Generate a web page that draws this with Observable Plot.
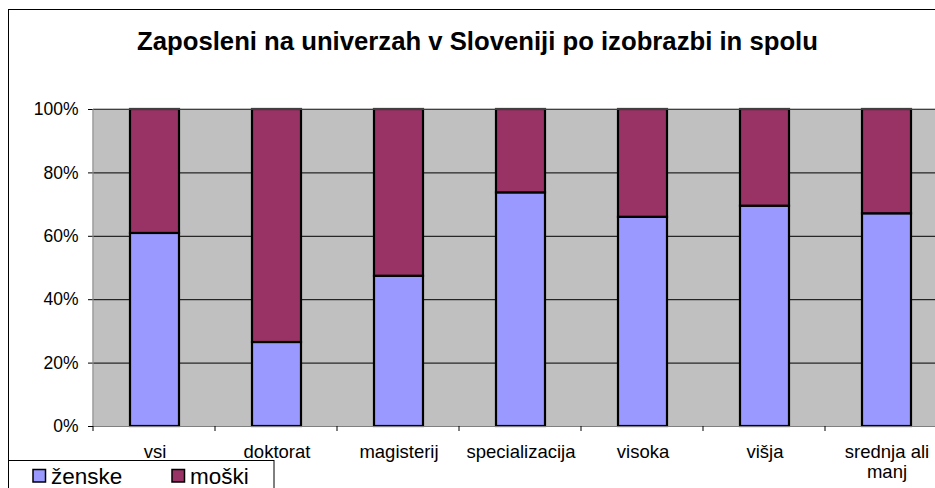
<!DOCTYPE html>
<html>
<head>
<meta charset="utf-8">
<script src="https://cdn.jsdelivr.net/npm/d3@7"></script>
<script src="https://cdn.jsdelivr.net/npm/@observablehq/plot@0.6"></script>
<style>
  html, body { margin: 0; padding: 0; background: #fff; overflow: hidden; }
  #wrap { width: 935px; height: 488px; overflow: hidden; position: relative; }
  #wrap svg { max-width: none !important; display: block; }
</style>
</head>
<body>
<div id="wrap"></div>
<script>
const title = "Zaposleni na univerzah v Sloveniji po izobrazbi in spolu";
const categories = ["vsi", "doktorat", "magisterij", "specializacija", "visoka", "višja", "srednja ali manj"];
const categoryLabels = ["vsi", "doktorat", "magisterij", "specializacija", "visoka", "višja", "srednja ali\nmanj"];
const series = ["ženske", "moški"];
const colors = ["#9999FF", "#993366"];
const zenske = [60.9, 26.5, 47.4, 73.7, 66.0, 69.5, 67.1];
const moski = [39.1, 73.5, 52.6, 26.3, 34.0, 30.5, 32.9];
const yTicks = [0, 20, 40, 60, 80, 100];

const values = [zenske, moski];
const data = [];
series.forEach((s, si) => categories.forEach((c, ci) => data.push({category: c, series: s, value: values[si][ci]})));

const font = "Arial, 'Liberation Sans', sans-serif";

const plot = Plot.plot({
  width: 960,
  height: 488,
  marginLeft: 93,
  marginRight: 13,
  marginTop: 109,
  marginBottom: 62,
  style: {fontFamily: font, background: "transparent", overflow: "visible", maxWidth: "none"},
  x: {domain: categories, paddingInner: 0.6, paddingOuter: 0.3, align: 0.5, label: null},
  y: {domain: [0, 100], label: null},
  color: {domain: series, range: colors},
  marks: [
    Plot.frame({fill: "#C0C0C0", stroke: null}),
    Plot.gridY(yTicks, {stroke: "#000", strokeOpacity: 1, strokeWidth: 1}),
    Plot.barY(data, {x: "category", y: "value", fill: "series", stroke: "#000", strokeWidth: 2.2, order: series}),
    Plot.axisY({ticks: yTicks, tickFormat: d => d + "%", tickSize: 5, tickPadding: 10, fontSize: 17.5, stroke: "#000", fill: "#000", label: null}),
    Plot.axisX({tickSize: 0, tickPadding: 16.5, fontSize: 18.5, lineHeight: 1.12, fill: "#000", tickFormat: d => categoryLabels[categories.indexOf(d)], label: null}),
    Plot.ruleY([0], {stroke: "#808080", strokeWidth: 1.2})
  ]
});

document.getElementById("wrap").appendChild(plot);
const svg = d3.select(plot);

const xs = plot.scale("x");
const ys = plot.scale("y");
const step = xs.step;
const yBottom = ys.range[0], yTop = ys.range[1];
const left = xs.range[0];
const g = svg.append("g").attr("class", "boundaries");
g.append("line").attr("x1", left).attr("x2", left).attr("y1", yTop).attr("y2", yBottom)
  .attr("stroke", "#808080").attr("stroke-width", 1.2);
g.append("line").attr("x1", left).attr("x2", xs.range[1]).attr("y1", yTop).attr("y2", yTop)
  .attr("stroke", "#808080").attr("stroke-width", 1.2);
for (let i = 0; i <= categories.length; i++) {
  const xb = left + i * step;
  g.append("line").attr("x1", xb).attr("x2", xb).attr("y1", yBottom).attr("y2", yBottom + 5)
    .attr("stroke", "#000").attr("stroke-width", 1);
}

// chart border
svg.append("rect").attr("x", 8.5).attr("y", 9.5).attr("width", 1000).attr("height", 1000)
  .attr("fill", "none").attr("stroke", "#000").attr("stroke-width", 1);

// title
svg.append("text").attr("x", 477.5).attr("y", 50).attr("text-anchor", "middle")
  .attr("font-family", font).attr("font-weight", "bold").attr("font-size", 25.7).attr("fill", "#000")
  .text(title);

// legend
const lg = svg.append("g").attr("text-anchor", "start");
lg.append("rect").attr("x", 8.5).attr("y", 460.5).attr("width", 265.5).attr("height", 60)
  .attr("fill", "#fff").attr("stroke", "#000").attr("stroke-width", 1);
series.forEach((s, i) => {
  const x0 = 33 + i * 139;
  lg.append("rect").attr("x", x0).attr("y", 469.5).attr("width", 12.5).attr("height", 12.5)
    .attr("fill", colors[i]).attr("stroke", "#000").attr("stroke-width", 1.5);
  lg.append("text").attr("x", x0 + 18).attr("y", 484).attr("text-anchor", "start").attr("font-family", font)
    .attr("font-size", 22.5).attr("fill", "#000").text(s);
});
</script>
</body>
</html>
